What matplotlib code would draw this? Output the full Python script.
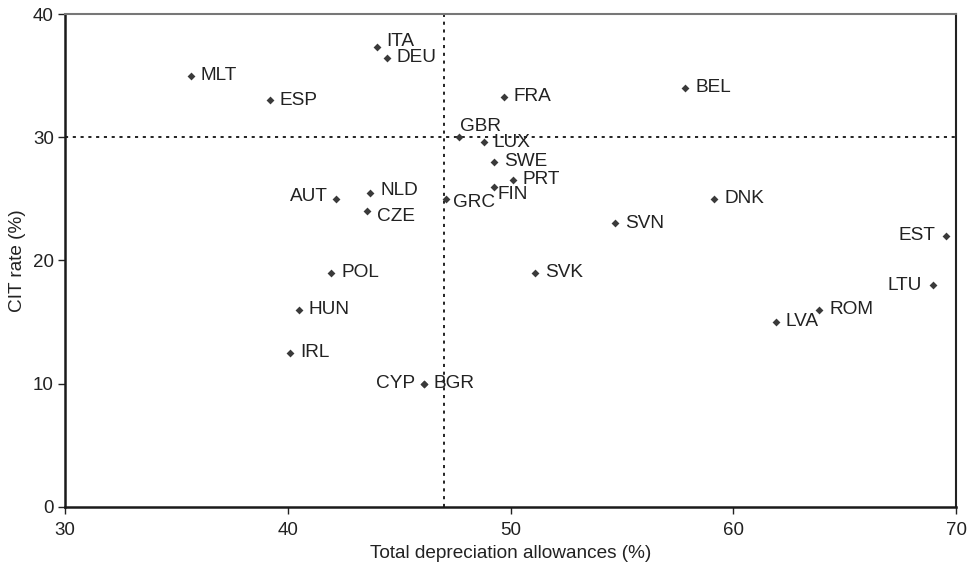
import matplotlib
matplotlib.use("Agg")
import matplotlib.pyplot as plt

plt.rcParams['font.family'] = ['Liberation Sans', 'DejaVu Sans']

countries = ["ITA", "DEU", "MLT", "ESP", "GBR", "LUX", "SWE", "PRT", "FIN", "GRC",
             "AUT", "NLD", "CZE", "POL", "HUN", "IRL", "BGR", "CYP", "FRA", "SVK",
             "BEL", "DNK", "SVN", "EST", "LTU", "ROM", "LVA"]
depreciation = [44.0, 44.45, 35.65, 39.2, 47.7, 48.8, 49.25, 50.1, 49.25, 47.1,
                42.15, 43.7, 43.55, 41.95, 40.5, 40.1, 46.1, 46.1, 49.7, 51.1,
                57.85, 59.15, 54.7, 69.55, 68.95, 63.85, 61.9]
cit_rate = [37.3, 36.45, 35.0, 33.0, 30.0, 29.6, 28.0, 26.5, 26.0, 25.0,
            25.0, 25.5, 24.0, 19.0, 16.0, 12.5, 10.0, 10.0, 33.3, 19.0,
            34.0, 25.0, 23.0, 22.0, 18.0, 16.0, 15.0]
avg_depreciation = 47.0
avg_cit = 30.0

# label offsets in pixels (dx, dy) and horizontal alignment
offsets = {
    "ITA": (9, 6, "left"), "DEU": (10, 0, "left"), "GBR": (1, 11, "left"),
    "FIN": (4, -8, "left"), "GRC": (7, -4, "left"), "AUT": (-8, 2, "right"),
    "NLD": (10, 2, "left"), "CZE": (10, -5, "left"), "CYP": (-9, 0, "right"),
    "EST": (-11, 0, "right"), "LTU": (-11, 0, "right"), "PRT": (10, 1, "left"),
}

fig = plt.figure(figsize=(9.7, 5.64), dpi=100)
ax = fig.add_axes([0.067, 0.1016, 0.9186, 0.8734])

ax.axvline(avg_depreciation, color='#222222', linestyle=(0, (1.6, 2.4)), linewidth=1.4, zorder=1)
ax.axhline(avg_cit, color='#222222', linestyle=(0, (1.6, 2.4)), linewidth=1.4, zorder=1)

ax.scatter(depreciation, cit_rate, marker='D', s=16, color='#3a3a3a', zorder=3, linewidths=0)

for c, x, y in zip(countries, depreciation, cit_rate):
    dx, dy, ha = offsets.get(c, (10, 0, "left"))
    ax.annotate(c, (x, y), xytext=(dx, dy), textcoords='offset pixels',
                ha=ha, va='center', fontsize=13.7, color='#222222')

ax.set_xlim(30, 70)
ax.set_ylim(0, 40)
ax.set_xticks([30, 40, 50, 60, 70])
ax.set_yticks([0, 10, 20, 30, 40])
ax.tick_params(axis='both', direction='out', length=5, width=1, labelsize=13.5,
               colors='#222222')
ax.tick_params(axis='x', pad=6)
ax.tick_params(axis='y', pad=3)
ax.set_xlabel("Total depreciation allowances (%)", fontsize=13.7, color='#222222', labelpad=4)
ax.set_ylabel("CIT rate (%)", fontsize=13.7, color='#222222', labelpad=5)

ax.spines['left'].set_linewidth(1.8)
ax.spines['bottom'].set_linewidth(1.8)
ax.spines['left'].set_color('#1a1a1a')
ax.spines['bottom'].set_color('#1a1a1a')
ax.spines['top'].set_color('#777777')
ax.spines['top'].set_linewidth(1.5)
ax.spines['right'].set_color('#222222')
ax.spines['right'].set_linewidth(1.5)

fig.savefig("out.png", dpi=100)
